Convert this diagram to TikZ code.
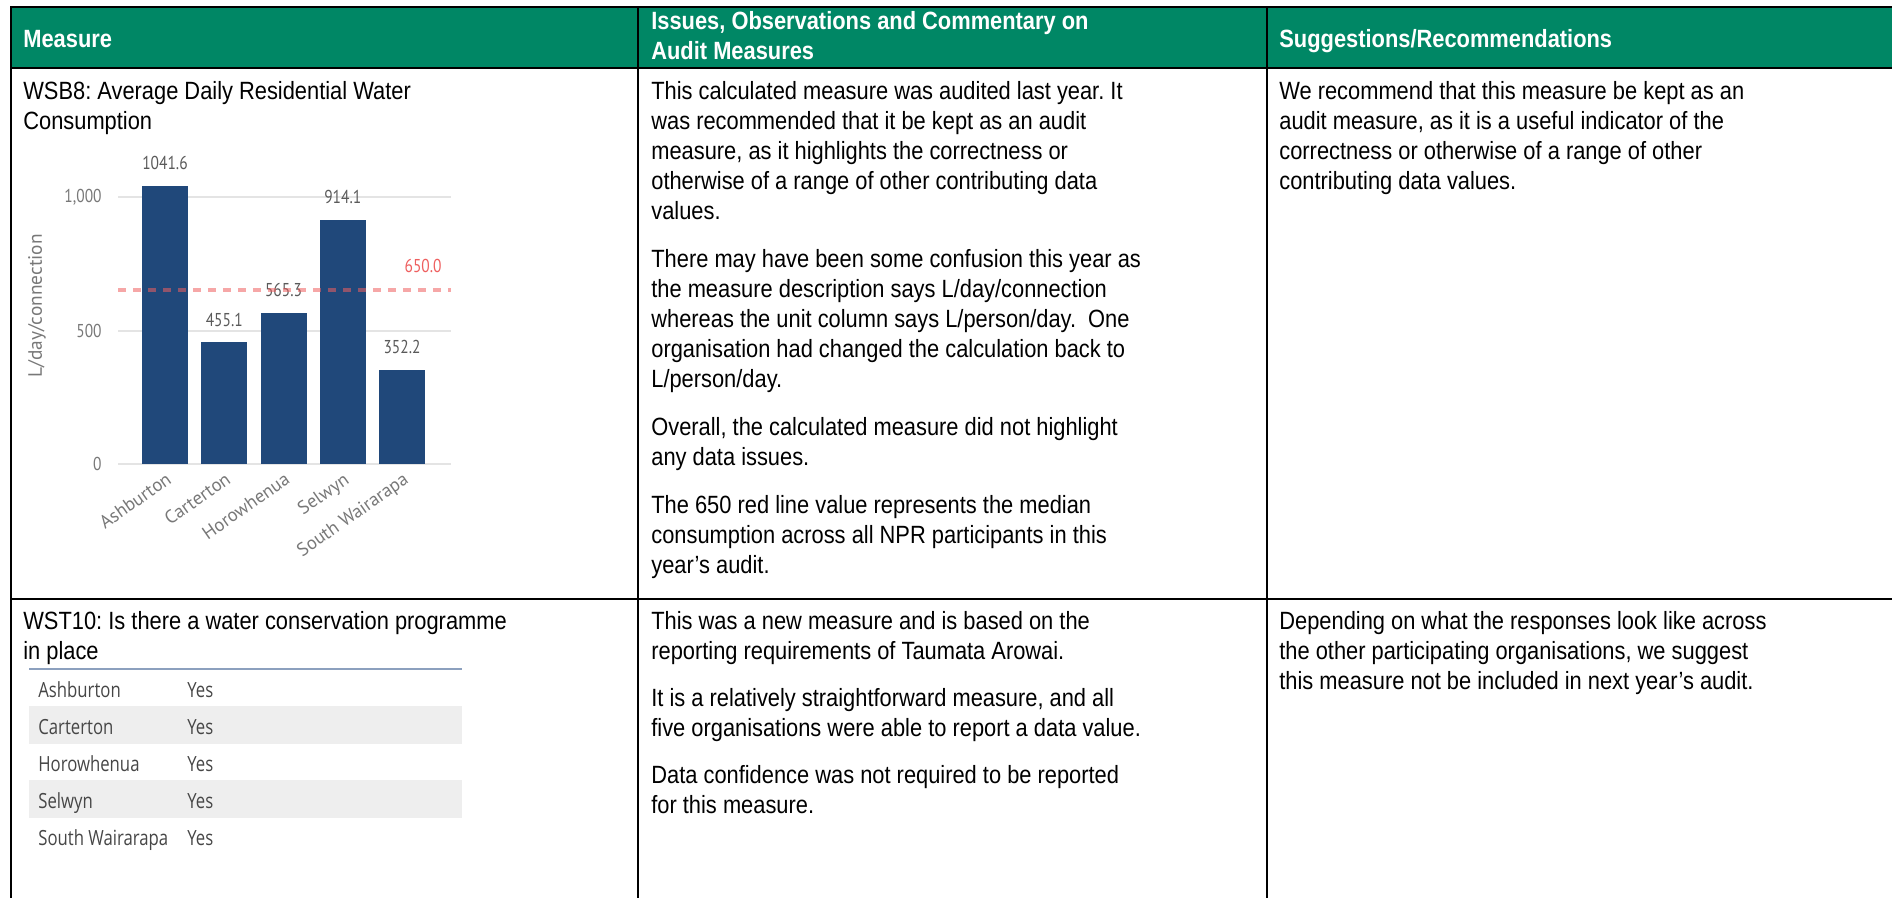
\documentclass[tikz,border=0pt]{standalone}
\usepackage{fontspec}
\setmainfont{Liberation Sans}[FakeStretch=0.876]
\newfontfamily\chartfont{PT Sans}
\newfontfamily\chartnum{PT Sans}[FakeStretch=0.83]
\newfontfamily\gridfont{Open Sans}[FakeStretch=0.8]

\definecolor{headgreen}{RGB}{0,135,101}
\definecolor{barblue}{RGB}{32,72,122}
\definecolor{gridgray}{RGB}{228,228,228}
\definecolor{tickgray}{RGB}{120,120,120}
\definecolor{valgray}{RGB}{90,90,90}
\definecolor{medianred}{RGB}{238,95,95}
\definecolor{rowgray}{RGB}{238,238,238}
\definecolor{rulegray}{RGB}{140,160,190}
\definecolor{yestext}{RGB}{70,70,70}

\tikzset{
  cell/.style={anchor=north west, inner sep=0pt, align=left,
    font=\fontsize{14.2}{17.07}\selectfont, execute at begin node=\strut},
  headcell/.style={cell, text=white, font=\fontsize{14.2}{17.07}\selectfont\bfseries},
  rule/.style={black, line width=0.045cm},
  tick/.style={anchor=east, inner sep=0pt, text=tickgray, font=\chartnum\fontsize{10.6}{12}\selectfont},
  barval/.style={anchor=base, inner sep=0pt, text=valgray, font=\chartnum\fontsize{10.6}{12}\selectfont},
  townlabel/.style={anchor=north east, rotate=35, inner sep=0pt, text=tickgray, font=\chartfont\fontsize{10.6}{12}\selectfont},
  yescell/.style={anchor=base west, inner sep=0pt, text=yestext, font=\gridfont\fontsize{11.9}{14}\selectfont}
}

\begin{document}
\frenchspacing
\begin{tikzpicture}[x=0.02cm, y=-0.02cm]
    \useasboundingbox (0,0) rectangle (1892,898);

    % header band and table rules
    \fill [headgreen] (11,7) rectangle (1892,68);
    \draw [rule] (1892,7) -- (11,7) -- (11,898);
    \draw [rule] (11,68) -- (1892,68);
    \draw [rule] (11,599) -- (1892,599);
    \draw [rule] (638,7) -- (638,898);
    \draw [rule] (1267,7) -- (1267,898);

    \node [headcell] (hmeasure) at (23,26) {Measure};
    \node [headcell] (hissues) at (651,11) {Issues, Observations and Commentary on\\Audit Measures};
    \node [headcell] (hsuggest) at (1279,26) {Suggestions/Recommendations};

    % row 1
    \node [cell] (wsbname) at (23,81) {WSB8: Average Daily Residential Water\\Consumption};
    \node [cell] (wsbnotes) at (651,81) {This calculated measure was audited last year. It\\
        was recommended that it be kept as an audit\\
        measure, as it highlights the correctness or\\
        otherwise of a range of other contributing data\\
        values.\\[0.36cm]
        There may have been some confusion this year as\\
        the measure description says L/day/connection\\
        whereas the unit column says L/person/day.\ \ One\\
        organisation had changed the calculation back to\\
        L/person/day.\\[0.36cm]
        Overall, the calculated measure did not highlight\\
        any data issues.\\[0.36cm]
        The 650 red line value represents the median\\
        consumption across all NPR participants in this\\
        year’s audit.};
    \node [cell] (wsbadvice) at (1279,81) {We recommend that this measure be kept as an\\
        audit measure, as it is a useful indicator of the\\
        correctness or otherwise of a range of other\\
        contributing data values.};

    % bar chart
    \foreach \gy/\gv in {464/0, 331/500, 197/{1,000}} {
        \draw [gridgray, line width=0.03cm] (118,\gy) -- (451,\gy);
        \node [tick] (ytick\gy) at (102,\gy) {\gv};
    }
    \node [rotate=90, inner sep=0pt, text=tickgray, font=\chartfont\fontsize{11}{12}\selectfont] (ytitle) at (37,306) {L/day/connection};
    \foreach \town/\val [count=\i] in {Ashburton/1041.6, Carterton/455.1, Horowhenua/565.3, Selwyn/914.1, South Wairarapa/352.2} {
        \pgfmathsetmacro\cx{165+(\i-1)*59.25}
        \pgfmathsetmacro\bartop{464-0.2672*\val}
        \fill [barblue] (\cx-23,464) rectangle (\cx+23,\bartop);
        \node [barval] (val\i) at (\cx,\bartop-16) {\val};
        \node [townlabel] (town\i) at (\cx,471) {\town};
    }
    \draw [medianred, opacity=0.55, line width=0.07cm, dash pattern=on 0.16cm off 0.14cm] (118,290) -- (451,290);
    \node [anchor=base east, inner sep=0pt, text=medianred, font=\chartnum\fontsize{10.6}{12}\selectfont] (median) at (442,273) {650.0};

    % row 2
    \node [cell] (wstname) at (23,611) {WST10: Is there a water conservation programme\\in place};
    \node [cell] (wstnotes) at (651,611) {This was a new measure and is based on the\\
        reporting requirements of Taumata Arowai.\\[0.34cm]
        It is a relatively straightforward measure, and all\\
        five organisations were able to report a data value.\\[0.34cm]
        Data confidence was not required to be reported\\
        for this measure.};
    \node [cell] (wstadvice) at (1279,611) {Depending on what the responses look like across\\
        the other participating organisations, we suggest\\
        this measure not be included in next year’s audit.};

    % yes/no table
    \fill [rowgray] (29,706) rectangle (462,744);
    \fill [rowgray] (29,780) rectangle (462,818);
    \draw [rulegray, line width=0.05cm] (29,669) -- (462,669);
    \foreach \town [count=\i] in {Ashburton, Carterton, Horowhenua, Selwyn, South Wairarapa} {
        \node [yescell] (org\i) at (38,660+37*\i) {\town};
        \node [yescell] (yes\i) at (187,660+37*\i) {Yes};
    }
\end{tikzpicture}
\end{document}
